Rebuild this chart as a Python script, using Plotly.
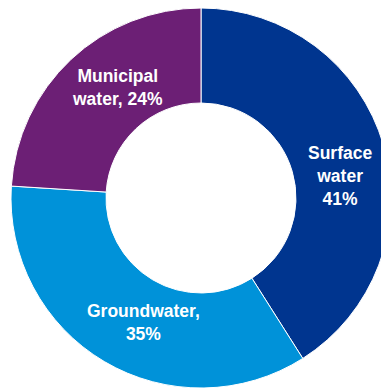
import plotly.graph_objects as go

# Water sources, share of total use (%)
sources = ["Surface water", "Groundwater", "Municipal water"]
shares = [41, 35, 24]
label_fmt = ["Surface<br>water<br>{}%", "Groundwater,<br>{}%", "Municipal<br>water, {}%"]
colors = ["#00358F", "#0092D9", "#6C1F75"]

W, H = 391, 390
# label centres in pixels (x from left, y from top)
label_px = [(340, 176), (143, 322), (118, 87)]

fig = go.Figure(
    go.Pie(
        labels=sources,
        values=shares,
        textinfo="none",
        hole=0.5,
        sort=False,
        direction="clockwise",
        rotation=0,
        marker=dict(colors=colors, line=dict(color="white", width=1)),
        domain=dict(x=[11 / W, 1], y=[2 / H, 382 / H]),
        showlegend=False,
        hoverinfo="label+percent",
    )
)

for fmt, val, (px, py) in zip(label_fmt, shares, label_px):
    fig.add_annotation(
        text=fmt.format(val),
        x=px / W,
        y=1 - py / H,
        xref="paper",
        yref="paper",
        xanchor="center",
        yanchor="middle",
        showarrow=False,
        align="center",
        font=dict(family="Liberation Sans, Arial, sans-serif", size=17.5, color="white", weight="bold"),
    )

fig.update_layout(
    width=W,
    height=H,
    margin=dict(l=0, r=0, t=0, b=0),
    paper_bgcolor="white",
    plot_bgcolor="white",
)

fig.write_html(
    "out.html",
    post_script="document.body.style.margin='0';document.body.style.overflow='hidden';",
)
